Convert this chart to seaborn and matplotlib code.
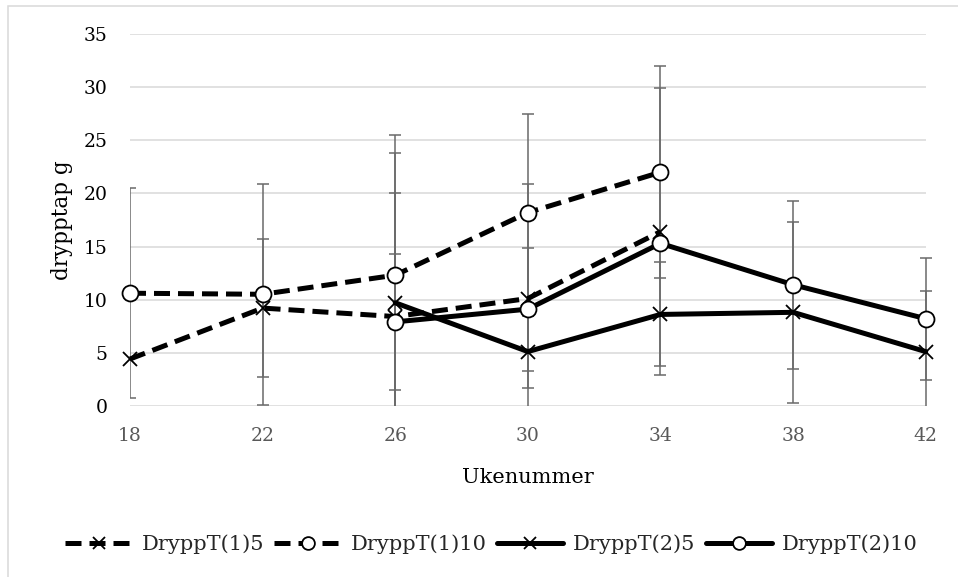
import numpy as np
import pandas as pd
import matplotlib
matplotlib.use("Agg")
import matplotlib.pyplot as plt
import seaborn as sns
from matplotlib.patches import Rectangle

nan = np.nan

# Week numbers on the x axis
weeks = [18, 22, 26, 30, 34, 38, 42]

# Mean drip loss (g) per series
drypp_t1_5 = [4.4, 9.2, 8.4, 10.1, 16.4, nan, nan]
drypp_t1_10 = [10.6, 10.5, 12.3, 18.2, 22.0, nan, nan]
drypp_t2_5 = [nan, nan, 9.7, 5.1, 8.6, 8.8, 5.1]
drypp_t2_10 = [nan, nan, 7.9, 9.1, 15.3, 11.4, 8.2]

# Symmetric error (±) per series
err_t1_5 = [nan, 6.5, 11.6, 10.8, 13.5, nan, nan]
err_t1_10 = [9.9, 10.4, 13.2, 9.3, 10.0, nan, nan]
err_t2_5 = [nan, nan, 14.1, 3.4, 4.9, 8.5, 5.75]
err_t2_10 = [nan, nan, 6.4, 5.8, nan, 7.9, 5.75]

series_names = ["DryppT(1)5", "DryppT(1)10", "DryppT(2)5", "DryppT(2)10"]
y_ticks = [0, 5, 10, 15, 20, 25, 30, 35]

df = pd.DataFrame({
    "Ukenummer": weeks * 4,
    "serie": np.repeat(series_names, len(weeks)),
    "verdi": drypp_t1_5 + drypp_t1_10 + drypp_t2_5 + drypp_t2_10,
    "feil": err_t1_5 + err_t1_10 + err_t2_5 + err_t2_10,
})

sns.set_theme(style="white")
plt.rcParams["font.family"] = ["DejaVu Serif"]

fig = plt.figure(figsize=(9.58, 5.77), dpi=100)
ax = fig.add_axes([130 / 958, 1 - 405.7 / 577, 795.7 / 958, 371.4 / 577])
ax.set_xlim(18, 42)
ax.set_ylim(0, 35)

styles = {
    "DryppT(1)5": dict(marker="x", linestyle=(0, (3.2, 1.6))),
    "DryppT(1)10": dict(marker="o", linestyle=(0, (3.2, 1.6))),
    "DryppT(2)5": dict(marker="x", linestyle="-"),
    "DryppT(2)10": dict(marker="o", linestyle="-"),
}

# error bars underneath the lines, cut off at the bottom of the plot area
clip_box = Rectangle((18, 0), 24.4, 35, transform=ax.transData,
                     fill=False, visible=False)
ax.add_patch(clip_box)
for name in series_names:
    sub = df[(df["serie"] == name) & df["feil"].notna()]
    eb = ax.errorbar(sub["Ukenummer"], sub["verdi"], yerr=sub["feil"],
                     fmt="none", ecolor="#6a6a6a", elinewidth=1.1,
                     capsize=4.3, capthick=1.1, zorder=2)
    for art in list(eb[1]) + list(eb[2]):
        art.set_clip_path(clip_box)

for name in series_names:
    sub = df[(df["serie"] == name) & df["verdi"].notna()]
    st = styles[name]
    ms = 11.5 if st["marker"] == "o" else 10
    sns.lineplot(data=sub, x="Ukenummer", y="verdi", ax=ax, color="black",
                 linewidth=3.6, linestyle=st["linestyle"], marker=st["marker"],
                 markersize=ms, markerfacecolor="white", markeredgecolor="black",
                 markeredgewidth=1.3, errorbar=None, label=name, zorder=3,
                 legend=False, clip_on=False)

ax.set_xlim(18, 42)
ax.set_ylim(0, 35)
ax.set_xticks(weeks)
ax.set_yticks(y_ticks)
ax.grid(axis="y", color="#d9d9d9", linewidth=1.1)
ax.grid(axis="x", visible=False)
for s in ax.spines.values():
    s.set_visible(False)
ax.tick_params(axis="both", length=0, labelsize=13.5)
ax.tick_params(axis="x", labelcolor="#595959", pad=15)
ax.tick_params(axis="y", labelcolor="black", pad=16)
ax.set_xlabel("Ukenummer", fontsize=15, color="black", labelpad=17)
ax.set_ylabel("drypptap g", fontsize=15.5, color="black", labelpad=8)

handles = ax.lines[-4:]
fig.legend(handles, series_names, loc="center", bbox_to_anchor=(0.513, 0.057),
           ncol=4, frameon=False, fontsize=15, handlelength=3.2,
           handletextpad=0.45, columnspacing=0.5, markerscale=0.8)

# chart area outline
fig.patches.append(Rectangle((8 / 958, -0.1), 1.0, 1.1 - 6 / 577,
                             transform=fig.transFigure, fill=False,
                             edgecolor="#d9d9d9", linewidth=1.1))

fig.savefig("out.png", dpi=100)
